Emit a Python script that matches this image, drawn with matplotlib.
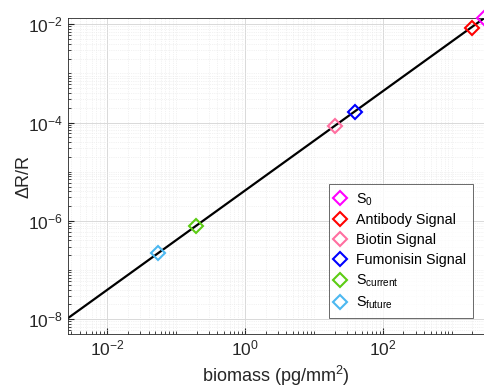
import matplotlib
matplotlib.use("Agg")
import matplotlib.pyplot as plt
from matplotlib.ticker import LogLocator, NullFormatter

plt.rcParams["font.family"] = ["Liberation Sans", "DejaVu Sans"]
plt.rcParams["mathtext.fontset"] = "custom"
plt.rcParams["mathtext.rm"] = "Liberation Sans"
plt.rcParams["mathtext.it"] = "Liberation Sans"

# fitted calibration line (biomass vs dR/R)
line_x = [0.0027, 2960]
line_y = [1.05e-8, 0.0132]

# signal points
labels = [r"S$_\mathregular{0}$", "Antibody Signal", "Biotin Signal",
          "Fumonisin Signal", r"S$_\mathregular{current}$", r"S$_\mathregular{future}$"]
point_x = [2950, 1950, 20.5, 40, 0.196, 0.055]
point_y = [0.0134, 8.2e-3, 8.6e-5, 1.65e-4, 8.0e-7, 2.2e-7]
colors = ["#ff00ff", "#ff0000", "#ff6fa0", "#0000ff", "#5ccc14", "#4cb8f0"]

fig = plt.figure(figsize=(4.85, 3.92), dpi=100)
ax = fig.add_axes([0.140, 0.148, 0.858, 0.806])

ax.plot(line_x, line_y, color="black", lw=1.6, zorder=2)
for x, y, c, lab in zip(point_x, point_y, colors, labels):
    ax.plot([x], [y], linestyle="none", marker="D", markersize=7,
            markerfacecolor="none", markeredgecolor=c, markeredgewidth=1.5,
            label=lab, zorder=3, clip_on=False)

ax.set_xscale("log")
ax.set_yscale("log")
ax.set_xlim(0.0027, 2960)
ax.set_ylim(10 ** -8.3, 10 ** -1.875)

ax.xaxis.set_major_locator(LogLocator(base=100))
ax.yaxis.set_major_locator(LogLocator(base=100))
ax.xaxis.set_minor_locator(LogLocator(base=10, subs=range(1, 10), numticks=50))
ax.yaxis.set_minor_locator(LogLocator(base=10, subs=range(1, 10), numticks=50))
ax.xaxis.set_minor_formatter(NullFormatter())
ax.yaxis.set_minor_formatter(NullFormatter())

ax.grid(True, which="major", color="#d9d9d9", lw=0.7)
ax.grid(True, which="minor", color="#e6e6e6", lw=0.5, linestyle=":")
ax.set_axisbelow(True)

ax.tick_params(which="both", direction="in", top=False, right=False,
               colors="#262626", labelsize=12.5)
ax.tick_params(which="major", length=4)
ax.tick_params(which="minor", length=2)
for s in ax.spines.values():
    s.set_color("#262626")
    s.set_linewidth(0.6)

ax.set_xlabel("biomass (pg/mm$^\\mathregular{2}$)", fontsize=13, color="#262626")
ax.set_ylabel("\u0394R/R", fontsize=13, color="#262626")
ax.yaxis.set_label_coords(-0.085, 0.5)

leg = ax.legend(loc="lower right", bbox_to_anchor=(0.974, 0.05), borderaxespad=0,
                fontsize=10.3, frameon=True, fancybox=False, edgecolor="#262626",
                handlelength=0.6, handletextpad=0.8, labelspacing=0.4,
                borderpad=0.5)
leg.get_frame().set_linewidth(0.6)

fig.savefig("out.png", dpi=100)
